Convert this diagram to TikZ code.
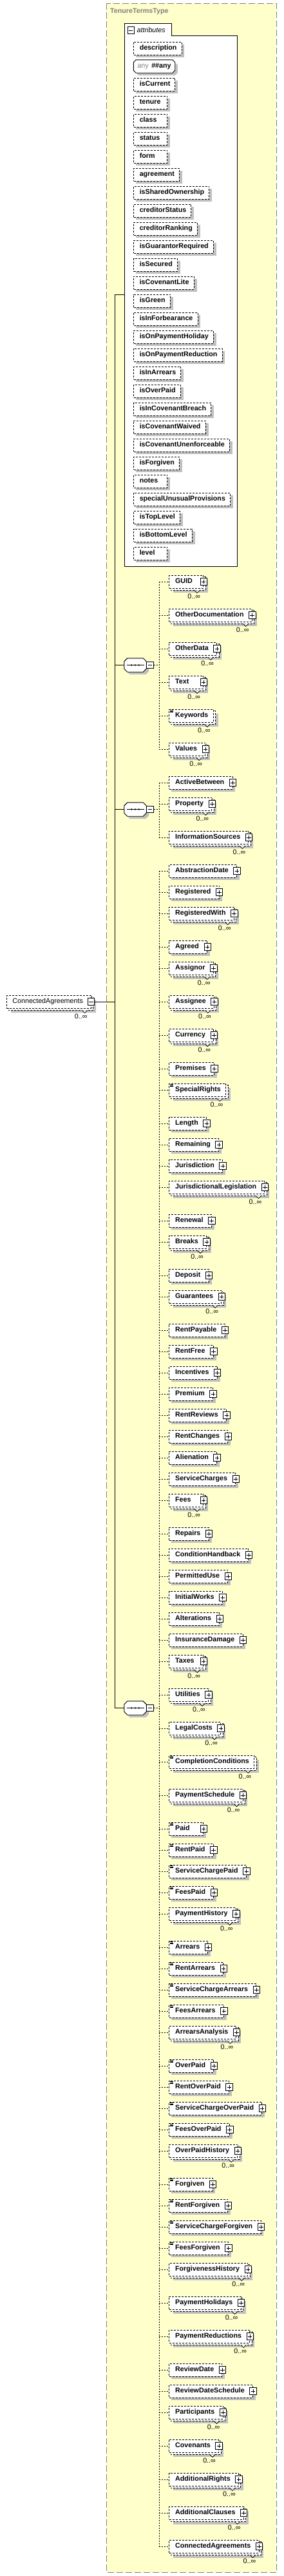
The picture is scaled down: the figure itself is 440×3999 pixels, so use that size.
\documentclass[tikz,border=0pt]{standalone}
\usepackage{fontspec}
\setmainfont{Liberation Sans}
\usetikzlibrary{calc}
\pgfdeclarelayer{bgl}
\pgfdeclarelayer{shadowl}
\pgfdeclarelayer{backl}
\pgfsetlayers{bgl,shadowl,backl,main}
\definecolor{ybg}{RGB}{255,255,204}
\definecolor{shadowgray}{RGB}{192,192,192}
\definecolor{bordergray}{RGB}{128,128,128}
\definecolor{titlegray}{RGB}{128,128,128}
\definecolor{anygray}{RGB}{128,128,128}

\newlength\bxw
\newcommand\xboxt[4]{\settowidth\bxw{#4}\advance\bxw by #2\relax\advance\bxw by #3\relax\ifdim\bxw<#1\relax\bxw=#1\relax\fi\makebox[\bxw][l]{\hspace*{#2}#4}}

\newcommand\octpath[3]{([shift={(#3)},xshift=#2]#1.north west) -- ([shift={(#3)},xshift=-#2]#1.north east) -- ([shift={(#3)},yshift=-#2]#1.north east) -- ([shift={(#3)},yshift=#2]#1.south east) -- ([shift={(#3)},xshift=-#2]#1.south east) -- ([shift={(#3)},xshift=#2]#1.south west) -- ([shift={(#3)},yshift=#2]#1.south west) -- ([shift={(#3)},yshift=-#2]#1.north west) -- cycle}

% element: name, y, text, repeated, doc, plus
\newcommand\xel[6]{%
  \ifnum#6=1\relax\def\rpad{12.7pt}\else\def\rpad{8pt}\fi
  \node[elemb] (#1) at (262.3,#2) {\xboxt{53pt}{9.4pt}{\rpad}{#3}};%
  \coordinate (#1-j) at (247.3,#2);%
  \draw[conn] (#1-j) -- (#1.west);%
  \ifnum#4=1\relax
    \begin{pgfonlayer}{backl}\draw[boxd,fill=white] ([shift={(3,3)}]#1.north west) rectangle ([shift={(3,3)}]#1.south east);\end{pgfonlayer}%
    \begin{pgfonlayer}{shadowl}\fill[shadowc] ([shift={(7,7)}]#1.north west) rectangle ([shift={(7,7)}]#1.south east);\end{pgfonlayer}%
    \draw[notch] ([shift={(-14,3)}]#1.south east) -- ++(4,4) -- ++(4,-4);%
    \node[mult] (#1-m) at ([shift={(-5,13)}]#1.south east) {0..∞};%
  \else
    \begin{pgfonlayer}{shadowl}\fill[shadowc] ([shift={(4,4)}]#1.north west) rectangle ([shift={(4,4)}]#1.south east);\end{pgfonlayer}%
  \fi
  \ifnum#5=1\relax
    \draw[docic] ([shift={(1.5,1.6)}]#1.north west) -- ++(5.5,0) ([shift={(1.5,3.3)}]#1.north west) -- ++(5.5,0) ([shift={(1.5,5)}]#1.north west) -- ++(5.5,0);%
  \fi
  \ifnum#6=1\relax
    \node[plusb] (#1-p) at (#1.east) {};%
  \fi
}

\newcommand\xattr[2]{%
  \node[elemb] (a-#1) at (207.3,{75+28*#2}) {\xboxt{52pt}{9pt}{7.6pt}{#1}};%
  \begin{pgfonlayer}{shadowl}\fill[shadowc] ([shift={(4,4)}]a-#1.north west) rectangle ([shift={(4,4)}]a-#1.south east);\end{pgfonlayer}%
}

\newcommand\xseq[2]{%
  \node[seqn] (#1) at (210,#2) {};%
  \begin{pgfonlayer}{shadowl}\fill[shadowc] \octpath{#1}{5pt}{4,4};\end{pgfonlayer}%
  \draw[seqd] \octpath{#1}{5pt}{0,0};%
  \draw[line width=0.9pt] ([xshift=-13.5pt]#1.center) -- ([xshift=13.5pt]#1.center);%
  \foreach \dx in {-5.7,0,5.7} \fill ([xshift=\dx pt]#1.center) circle[radius=1.35pt];%
  \node[minusb, anchor=west] (#1-m) at (#1.east) {};%
  \coordinate (#1-j) at (247.3,#2);%
  \draw[conn] (#1-m.east) -- (#1-j);%
}

\begin{document}
\begin{tikzpicture}[x=1pt,y=-1pt,
  bfont/.style={font=\fontsize{10.7}{12}\selectfont\bfseries},
  elemb/.style={draw, dash pattern=on 3pt off 2pt, line width=0.9pt, fill=white, anchor=west, minimum height=20pt, inner xsep=0pt, inner ysep=0pt, text height=8pt, text depth=2.3pt, bfont},
  rootb/.style={elemb, font=\fontsize{10.7}{12}\selectfont},
  boxd/.style={draw, dash pattern=on 3pt off 2pt, line width=0.9pt},
  shadowc/.style={fill=shadowgray},
  conn/.style={dash pattern=on 2pt off 2pt, line width=0.9pt},
  trunk/.style={line width=1pt},
  notch/.style={solid, fill=white, line width=0.8pt},
  docic/.style={solid, line width=0.6pt},
  mult/.style={anchor=east, inner sep=0pt, text height=8pt, text depth=2.3pt, font=\fontsize{10.7}{12}\selectfont},
  plusb/.style={draw, solid, fill=white, minimum size=10.5pt, inner sep=0pt, line width=0.8pt,
    path picture={\draw[line width=0.8pt] ([xshift=2pt]path picture bounding box.west) -- ([xshift=-2pt]path picture bounding box.east) ([yshift=-2pt]path picture bounding box.north) -- ([yshift=2pt]path picture bounding box.south);}},
  minusb/.style={draw, solid, fill=white, minimum size=10.5pt, inner sep=0pt, line width=0.8pt,
    path picture={\draw[line width=0.8pt] ([xshift=2pt]path picture bounding box.west) -- ([xshift=-2pt]path picture bounding box.east);}},
  seqn/.style={inner sep=0pt, minimum width=34pt, minimum height=21pt},
  seqd/.style={fill=white, draw, solid, line width=0.9pt},
  ybox/.style={fill=ybg, draw=bordergray, dash pattern=on 10pt off 4pt, line width=1pt},
]
\useasboundingbox (0,0) rectangle (440,3999);

% background complex type box
\begin{pgfonlayer}{bgl}
  \draw[ybox] (165,5) rectangle (429.3,3993.3);
  \draw[fill=white, line width=1pt] (193,879.3) -- (193,36) -- (266,36) -- (266,55) -- (368,55) -- (368,879.3) -- cycle;
\end{pgfonlayer}
\node[anchor=west, inner sep=0pt, text=titlegray, bfont] (ttl) at (171,18.3) {TenureTermsType};

% attributes group
\node[inner sep=0pt, minimum width=175pt, minimum height=843.3pt, anchor=north west] (attrs) at (193,36) {};
\node[minusb] (attrs-m) at (203.2,47) {};
\node[anchor=west, inner sep=0pt, font=\fontsize{10.7}{12}\selectfont\itshape] (attrs-l) at (212.5,46.8) {attributes};

\xattr{description}{0}
\node[anchor=west, minimum height=20pt, inner xsep=6pt, inner ysep=0pt, text height=8pt, text depth=2.3pt, font=\fontsize{10.7}{12}\selectfont] (a-any) at (207.3,103) {\textcolor{anygray}{any}\hspace{4.5pt}\textbf{\#\#any}};
\begin{pgfonlayer}{shadowl}\fill[shadowc] \octpath{a-any}{4pt}{4,4};\end{pgfonlayer}
\begin{pgfonlayer}{backl}\draw[fill=white, line width=0.9pt] \octpath{a-any}{4pt}{0,0};\end{pgfonlayer}
\xattr{isCurrent}{2}
\xattr{tenure}{3}
\xattr{class}{4}
\xattr{status}{5}
\xattr{form}{6}
\xattr{agreement}{7}
\xattr{isSharedOwnership}{8}
\xattr{creditorStatus}{9}
\xattr{creditorRanking}{10}
\xattr{isGuarantorRequired}{11}
\xattr{isSecured}{12}
\xattr{isCovenantLite}{13}
\xattr{isGreen}{14}
\xattr{isInForbearance}{15}
\xattr{isOnPaymentHoliday}{16}
\xattr{isOnPaymentReduction}{17}
\xattr{isInArrears}{18}
\xattr{isOverPaid}{19}
\xattr{isInCovenantBreach}{20}
\xattr{isCovenantWaived}{21}
\xattr{isCovenantUnenforceable}{22}
\xattr{isForgiven}{23}
\xattr{notes}{24}
\xattr{specialUnusualProvisions}{25}
\xattr{isTopLevel}{26}
\xattr{isBottomLevel}{27}
\xattr{level}{28}

% root element
\node[rootb] (root) at (10,1555) {\xboxt{53pt}{9pt}{12.3pt}{ConnectedAgreements}};
\begin{pgfonlayer}{backl}\draw[boxd,fill=white] ([shift={(3,3)}]root.north west) rectangle ([shift={(3,3)}]root.south east);\end{pgfonlayer}
\begin{pgfonlayer}{shadowl}\fill[shadowc] ([shift={(7,7)}]root.north west) rectangle ([shift={(7,7)}]root.south east);\end{pgfonlayer}
\draw[notch] ([shift={(-14,3)}]root.south east) -- ++(4,4) -- ++(4,-4);
\node[mult] (root-mu) at ([shift={(-6,13)}]root.south east) {0..∞};
\node[minusb] (root-p) at (root.east) {};

% sequences
\xseq{s1}{1032.5}
\xseq{s2}{1256.5}
\xseq{s3}{2651.5}

% trunk
\coordinate (tTop) at (178.3,457.7);
\draw[trunk] (attrs.west |- tTop) -- (tTop) -- (tTop |- s3) -- (s3.west);
\draw[trunk] (tTop |- s1) -- (s1.west);
\draw[trunk] (tTop |- s2) -- (s2.west);
\draw[trunk] (root-p.east) -- (tTop |- root-p.east);

% sequence 1
\xel{GUID}{903}{GUID}{1}{0}{1}
\xel{OtherDocumentation}{955}{OtherDocumentation}{1}{0}{1}
\xel{OtherData}{1007}{OtherData}{1}{0}{1}
\xel{Text}{1059}{Text}{1}{0}{1}
\xel{Keywords}{1111}{Keywords}{1}{1}{0}
\xel{Values}{1163}{Values}{1}{0}{1}
\draw[conn] (GUID-j) -- (Values-j);

% sequence 2
\xel{ActiveBetween}{1215}{ActiveBetween}{0}{0}{1}
\xel{Property}{1248}{Property}{1}{0}{1}
\xel{InformationSources}{1300}{InformationSources}{1}{0}{1}
\draw[conn] (ActiveBetween-j) -- (InformationSources-j);

% sequence 3
\xel{AbstractionDate}{1352}{AbstractionDate}{0}{0}{1}
\xel{Registered}{1385}{Registered}{0}{0}{1}
\xel{RegisteredWith}{1418}{RegisteredWith}{1}{0}{1}
\xel{Agreed}{1470}{Agreed}{0}{0}{1}
\xel{Assignor}{1503}{Assignor}{1}{0}{1}
\xel{Assignee}{1555}{Assignee}{1}{0}{1}
\xel{Currency}{1607}{Currency}{1}{0}{1}
\xel{Premises}{1659}{Premises}{0}{0}{1}
\xel{SpecialRights}{1692}{SpecialRights}{1}{1}{0}
\xel{Length}{1744}{Length}{0}{0}{1}
\xel{Remaining}{1777}{Remaining}{0}{0}{1}
\xel{Jurisdiction}{1810}{Jurisdiction}{0}{0}{1}
\xel{JurisdictionalLegislation}{1843}{JurisdictionalLegislation}{1}{0}{1}
\xel{Renewal}{1895}{Renewal}{0}{0}{1}
\xel{Breaks}{1928}{Breaks}{1}{0}{1}
\xel{Deposit}{1980}{Deposit}{0}{0}{1}
\xel{Guarantees}{2013}{Guarantees}{1}{0}{1}
\xel{RentPayable}{2065}{RentPayable}{0}{0}{1}
\xel{RentFree}{2098}{RentFree}{0}{0}{1}
\xel{Incentives}{2131}{Incentives}{0}{0}{1}
\xel{Premium}{2164}{Premium}{0}{0}{1}
\xel{RentReviews}{2197}{RentReviews}{0}{0}{1}
\xel{RentChanges}{2230}{RentChanges}{0}{0}{1}
\xel{Alienation}{2263}{Alienation}{0}{0}{1}
\xel{ServiceCharges}{2296}{ServiceCharges}{0}{0}{1}
\xel{Fees}{2329}{Fees}{1}{0}{1}
\xel{Repairs}{2381}{Repairs}{0}{0}{1}
\xel{ConditionHandback}{2414}{ConditionHandback}{0}{0}{1}
\xel{PermittedUse}{2447}{PermittedUse}{0}{0}{1}
\xel{InitialWorks}{2480}{InitialWorks}{0}{0}{1}
\xel{Alterations}{2513}{Alterations}{0}{0}{1}
\xel{InsuranceDamage}{2546}{InsuranceDamage}{0}{0}{1}
\xel{Taxes}{2579}{Taxes}{1}{0}{1}
\xel{Utilities}{2631}{Utilities}{1}{0}{1}
\xel{LegalCosts}{2683}{LegalCosts}{1}{0}{1}
\xel{CompletionConditions}{2735}{CompletionConditions}{1}{1}{0}
\xel{PaymentSchedule}{2787}{PaymentSchedule}{1}{0}{1}
\xel{Paid}{2839}{Paid}{0}{1}{1}
\xel{RentPaid}{2872}{RentPaid}{0}{1}{1}
\xel{ServiceChargePaid}{2905}{ServiceChargePaid}{0}{1}{1}
\xel{FeesPaid}{2938}{FeesPaid}{0}{1}{1}
\xel{PaymentHistory}{2971}{PaymentHistory}{1}{0}{1}
\xel{Arrears}{3023}{Arrears}{0}{1}{1}
\xel{RentArrears}{3056}{RentArrears}{0}{1}{1}
\xel{ServiceChargeArrears}{3089}{ServiceChargeArrears}{0}{1}{1}
\xel{FeesArrears}{3122}{FeesArrears}{0}{1}{1}
\xel{ArrearsAnalysis}{3155}{ArrearsAnalysis}{1}{0}{1}
\xel{OverPaid}{3207}{OverPaid}{0}{1}{1}
\xel{RentOverPaid}{3240}{RentOverPaid}{0}{1}{1}
\xel{ServiceChargeOverPaid}{3273}{ServiceChargeOverPaid}{0}{1}{1}
\xel{FeesOverPaid}{3306}{FeesOverPaid}{0}{1}{1}
\xel{OverPaidHistory}{3339}{OverPaidHistory}{1}{0}{1}
\xel{Forgiven}{3391}{Forgiven}{0}{1}{1}
\xel{RentForgiven}{3424}{RentForgiven}{0}{1}{1}
\xel{ServiceChargeForgiven}{3457}{ServiceChargeForgiven}{0}{1}{1}
\xel{FeesForgiven}{3490}{FeesForgiven}{0}{1}{1}
\xel{ForgivenessHistory}{3523}{ForgivenessHistory}{1}{0}{1}
\xel{PaymentHolidays}{3575}{PaymentHolidays}{1}{0}{1}
\xel{PaymentReductions}{3627}{PaymentReductions}{1}{0}{1}
\xel{ReviewDate}{3679}{ReviewDate}{0}{0}{1}
\xel{ReviewDateSchedule}{3712}{ReviewDateSchedule}{0}{0}{1}
\xel{Participants}{3745}{Participants}{1}{0}{1}
\xel{Covenants}{3797}{Covenants}{1}{0}{1}
\xel{AdditionalRights}{3849}{AdditionalRights}{1}{0}{1}
\xel{AdditionalClauses}{3901}{AdditionalClauses}{1}{0}{1}
\xel{ConnectedAgreementsC}{3953}{ConnectedAgreements}{1}{0}{1}
\draw[conn] (AbstractionDate-j) -- (ConnectedAgreementsC-j);
\end{tikzpicture}
\end{document}
